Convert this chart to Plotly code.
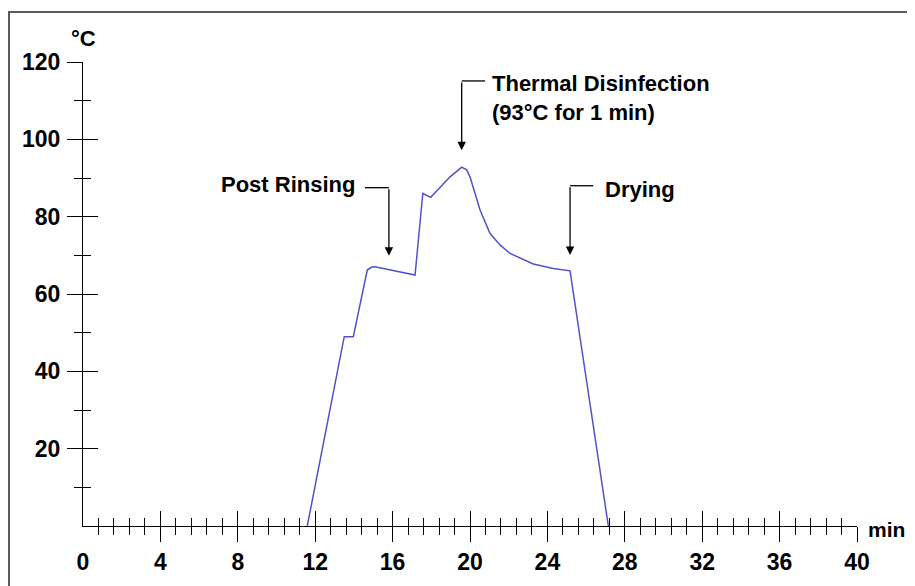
import plotly.graph_objects as go

# ---- data ----
time_min = [11.59, 13.50, 13.97, 14.69, 14.9, 15.09, 17.16, 17.56, 17.97, 18.97, 19.57,
            19.83, 20.0, 20.52, 21.03, 21.55, 22.07, 23.27, 24.3, 25.17, 27.15]
temp_c = [0, 48.95, 48.95, 66.2, 66.9, 67.05, 64.9, 86.0, 85.0, 90.3, 92.8,
          92.1, 90.3, 81.7, 75.7, 72.7, 70.5, 67.75, 66.6, 66.0, 0]

x_major = [0, 4, 8, 12, 16, 20, 24, 28, 32, 36, 40]
x_labels = [str(v) for v in x_major]
x_tick_marks = x_major[1:]
x_minor = [0.8, 1.6, 2.4, 3.2, 4.8, 5.6, 6.4, 7.2, 8.8, 9.6, 10.4, 11.2,
           12.8, 13.6, 14.4, 15.2, 16.8, 17.6, 18.4, 19.2, 20.8, 21.6, 22.4, 23.2,
           24.8, 25.6, 26.4, 27.2, 28.8, 29.6, 30.4, 31.2, 32.8, 33.6, 34.4, 35.2,
           36.8, 37.6, 38.4, 39.2]
y_major = [20, 40, 60, 80, 100, 120]
y_labels = [str(v) for v in y_major]
y_minor = [10, 30, 50, 70, 90, 110]

# annotations: label, arrow x, arrow tip y, elbow y, leader end x, text x, text y, anchor
ann_labels = ["Post Rinsing", "Thermal Disinfection<br>(93°C for 1 min)", "Drying"]
ann_arrow_x = [15.81, 19.57, 25.17]
ann_tip_y = [69.9, 97.2, 70.1]
ann_elbow_y = [87.5, 115.1, 88.0]
ann_leader_x = [14.57, 20.78, 26.37]
ann_text_x = [14.16, 21.03, 26.89]
ann_text_y = [88.4, 110.7, 86.9]
ann_anchor = ["right", "left", "left"]

FONT = "Liberation Sans, Arial, sans-serif"
LINE_W = 1.3

fig = go.Figure()
fig.add_trace(go.Scatter(x=time_min, y=temp_c, mode="lines",
                         line=dict(color="#5252c8", width=1.5),
                         hoverinfo="skip", showlegend=False, cliponaxis=False))

common = dict(range=[0, 40], showgrid=False, zeroline=False, fixedrange=True)
fig.update_layout(
    width=907, height=578,
    margin=dict(l=75, r=58, t=54, b=60),
    paper_bgcolor="white", plot_bgcolor="white",
    font=dict(family=FONT, color="black", size=22),
    showlegend=False,
    xaxis=dict(**common, showline=True, linecolor="black", linewidth=LINE_W,
               tickmode="array", tickvals=x_major, ticktext=x_labels,
               ticks="outside", ticklen=15, tickcolor="rgba(0,0,0,0)",
               tickfont=dict(size=23, family=FONT, weight="bold"),
               ticklabelstandoff=0),
    xaxis2=dict(**common, overlaying="x", anchor="y", side="bottom", showline=False,
                tickmode="array", tickvals=x_tick_marks, ticks="outside", ticklen=15,
                tickwidth=LINE_W, tickcolor="black", showticklabels=False,
                minor=dict(tickmode="array", tickvals=x_minor, ticks="outside",
                           ticklen=8, tickwidth=LINE_W, tickcolor="black")),
    xaxis3=dict(**common, overlaying="x", anchor="y", side="bottom", showline=False,
                tickmode="array", tickvals=x_tick_marks, ticks="inside", ticklen=15,
                tickwidth=LINE_W, tickcolor="black", showticklabels=False,
                minor=dict(tickmode="array", tickvals=x_minor, ticks="inside",
                           ticklen=8, tickwidth=LINE_W, tickcolor="black")),
    yaxis=dict(range=[0, 120], showgrid=False, zeroline=False, fixedrange=True,
               showline=True, linecolor="black", linewidth=LINE_W,
               tickmode="array", tickvals=y_major, ticktext=y_labels,
               ticks="outside", ticklen=15, tickwidth=LINE_W, tickcolor="black",
               tickfont=dict(size=23, family=FONT, weight="bold"),
               ticklabelstandoff=2,
               minor=dict(tickmode="array", tickvals=y_minor, ticks="outside",
                          ticklen=8, tickwidth=LINE_W, tickcolor="black")),
    yaxis2=dict(range=[0, 120], showgrid=False, zeroline=False, fixedrange=True,
                overlaying="y", anchor="x", side="left", showline=False,
                tickmode="array", tickvals=y_major, ticks="inside", ticklen=15,
                tickwidth=LINE_W, tickcolor="black", showticklabels=False,
                minor=dict(tickmode="array", tickvals=y_minor, ticks="inside",
                           ticklen=8, tickwidth=LINE_W, tickcolor="black")),
)

# empty traces so the overlay axes are created
fig.add_trace(go.Scatter(x=[], y=[], xaxis="x2", yaxis="y", showlegend=False))
fig.add_trace(go.Scatter(x=[], y=[], xaxis="x3", yaxis="y2", showlegend=False))

annotations = []
shapes = []
for lab, axx, tip, elb, lead, tx, ty, anc in zip(ann_labels, ann_arrow_x, ann_tip_y,
                                                 ann_elbow_y, ann_leader_x,
                                                 ann_text_x, ann_text_y, ann_anchor):
    annotations.append(dict(x=tx, y=ty, xref="x", yref="y", text=lab, showarrow=False,
                            xanchor=anc, yanchor="middle", align="left",
                            font=dict(size=22, family=FONT, weight="bold")))
    annotations.append(dict(x=axx, y=tip, ax=axx, ay=elb, xref="x", yref="y",
                            axref="x", ayref="y", text="", showarrow=True,
                            arrowhead=2, arrowsize=1.3, arrowwidth=LINE_W,
                            arrowcolor="black", standoff=0, startstandoff=0))
    shapes.append(dict(type="line", xref="x", yref="y", x0=lead, x1=axx, y0=elb, y1=elb,
                       line=dict(color="black", width=LINE_W)))

annotations.append(dict(x=0, y=1.0496, xref="x", yref="paper", text="°C", showarrow=False,
                        xanchor="center", yanchor="middle",
                        font=dict(size=22, family=FONT, weight="bold")))
annotations.append(dict(x=40, y=0, xref="x", yref="y", text="min", showarrow=False,
                        xanchor="left", yanchor="middle", xshift=9, yshift=-3,
                        font=dict(size=21, family=FONT, weight="bold")))

# outer frame (top and left edges visible)
shapes.append(dict(type="rect", xref="paper", yref="paper", x0=-0.0956, x1=1.3,
                   y0=-0.4, y1=1.1078, line=dict(color="#5a5a5a", width=2),
                   fillcolor="rgba(0,0,0,0)", layer="below"))

fig.update_layout(annotations=annotations, shapes=shapes)
fig.write_html("out.html")
